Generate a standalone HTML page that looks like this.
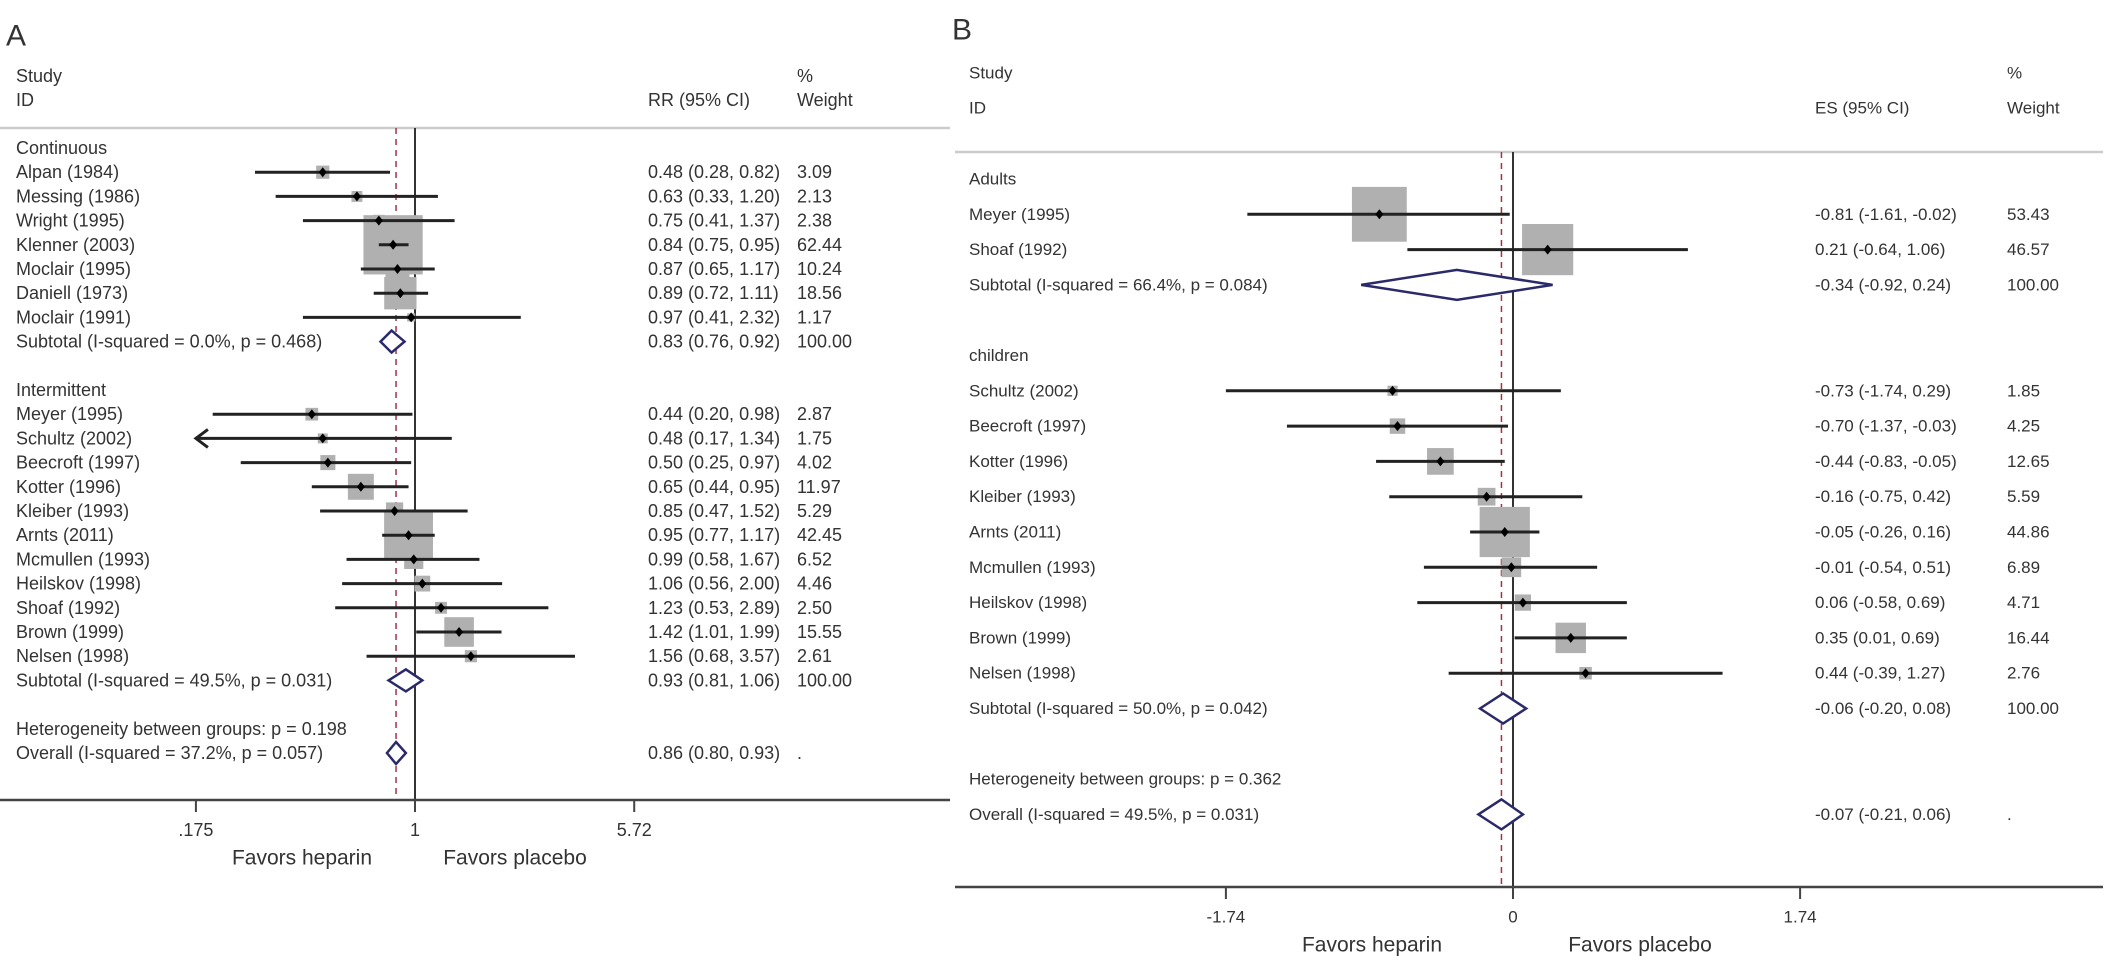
<!DOCTYPE html>
<html><head><meta charset="utf-8"><style>
html,body{margin:0;padding:0;background:#fff;}
svg{display:block;font-family:"Liberation Sans",Arial,sans-serif;}
</style></head><body>
<svg id="chart" width="2126" height="965" viewBox="0 0 2126 965" xmlns="http://www.w3.org/2000/svg"></svg>
<script>
// ---------- Panel A data ----------
const aGroups=["Continuous","Intermittent"];
const aStudies=["Alpan (1984)","Messing (1986)","Wright (1995)","Klenner (2003)","Moclair (1995)","Daniell (1973)","Moclair (1991)",
"Meyer (1995)","Schultz (2002)","Beecroft (1997)","Kotter (1996)","Kleiber (1993)","Arnts (2011)","Mcmullen (1993)","Heilskov (1998)","Shoaf (1992)","Brown (1999)","Nelsen (1998)"];
const aEst=[0.48,0.63,0.75,0.84,0.87,0.89,0.97,0.44,0.48,0.50,0.65,0.85,0.95,0.99,1.06,1.23,1.42,1.56];
const aLo=[0.28,0.33,0.41,0.75,0.65,0.72,0.41,0.20,0.17,0.25,0.44,0.47,0.77,0.58,0.56,0.53,1.01,0.68];
const aHi=[0.82,1.20,1.37,0.95,1.17,1.11,2.32,0.98,1.34,0.97,0.95,1.52,1.17,1.67,2.00,2.89,1.99,3.57];
const aWeight=[3.09,2.13,2.38,62.44,10.24,18.56,1.17,2.87,1.75,4.02,11.97,5.29,42.45,6.52,4.46,2.50,15.55,2.61];
const aStudyGroup=[0,0,0,0,0,0,0,1,1,1,1,1,1,1,1,1,1,1];
const aSubLabels=["Subtotal  (I-squared = 0.0%, p = 0.468)","Subtotal  (I-squared = 49.5%, p = 0.031)"];
const aSubEst=[0.83,0.93];
const aSubLo=[0.76,0.81];
const aSubHi=[0.92,1.06];
const aOverall=[0.86,0.80,0.93];
const aTicks=[0.175,1,5.72];
const aTickLabels=[".175","1","5.72"];
// ---------- Panel B data ----------
const bGroups=["Adults","children"];
const bStudies=["Meyer (1995)","Shoaf (1992)","Schultz (2002)","Beecroft (1997)","Kotter (1996)","Kleiber (1993)","Arnts (2011)","Mcmullen (1993)","Heilskov (1998)","Brown (1999)","Nelsen (1998)"];
const bEst=[-0.81,0.21,-0.73,-0.70,-0.44,-0.16,-0.05,-0.01,0.06,0.35,0.44];
const bLo=[-1.61,-0.64,-1.74,-1.37,-0.83,-0.75,-0.26,-0.54,-0.58,0.01,-0.39];
const bHi=[-0.02,1.06,0.29,-0.03,-0.05,0.42,0.16,0.51,0.69,0.69,1.27];
const bWeight=[53.43,46.57,1.85,4.25,12.65,5.59,44.86,6.89,4.71,16.44,2.76];
const bStudyGroup=[0,0,1,1,1,1,1,1,1,1,1];
const bSubLabels=["Subtotal  (I-squared = 66.4%, p = 0.084)","Subtotal  (I-squared = 50.0%, p = 0.042)"];
const bSubEst=[-0.34,-0.06];
const bSubLo=[-0.92,-0.20];
const bSubHi=[0.24,0.08];
const bOverall=[-0.07,-0.21,0.06];
const bTicks=[-1.74,0,1.74];
const bTickLabels=["-1.74","0","1.74"];

const NS="http://www.w3.org/2000/svg";
const svg=document.getElementById('chart');
function mk(tag,attrs){const e=document.createElementNS(NS,tag);for(const k in attrs)e.setAttribute(k,attrs[k]);svg.appendChild(e);return e;}
function txt(x,y,s,size,anchor){const t=mk('text',{x:x,y:y,'font-size':size,'dominant-baseline':'central','text-anchor':anchor||'start',fill:'#333'});t.textContent=s;return t;}
function f2(v){return v.toFixed(2);}

function panel(P){
  const sx=P.sx;
  let t=txt(P.letterX,P.letterY,P.letter,30);
  
  
  t=txt(P.nameX,P.hdrY1,"Study",P.fs);
  t=txt(P.nameX,P.hdrY2,"ID",P.fs);
  t=txt(P.estX,P.hdrY2,P.estHdr,P.fs);
  t=txt(P.wX,P.hdrY1,"%",P.fs);
  t=txt(P.wX,P.hdrY2,"Weight",P.fs);
  let l=mk('line',{x1:P.x0,x2:P.x1,y1:P.hdrLineY,y2:P.hdrLineY,stroke:'#ccc','stroke-width':2.5});
  
  l=mk('line',{x1:sx(P.nullV),x2:sx(P.nullV),y1:P.hdrLineY,y2:P.axisY,stroke:'#333','stroke-width':2});
  
  l=mk('line',{x1:sx(P.overall[0]),x2:sx(P.overall[0]),y1:P.hdrLineY,y2:P.axisY,stroke:'#a0324a','stroke-width':1.5,'stroke-dasharray':'6,5'});
  
  const Y=i=>P.row0+P.pitch*i;
  P.groups.forEach((g,i)=>{const t=txt(P.nameX,Y(P.groupRows[i]),g,P.fs);});
  P.studies.forEach((s,i)=>{
    const cx=sx(P.est[i]),cy=Y(P.studyRows[i]),w=7.5*Math.sqrt(P.weight[i]);
    const b=mk('rect',{x:cx-w/2,y:cy-w/2,width:w,height:w,fill:'#b0b0b0'});
    
  });
  P.studies.forEach((s,i)=>{
    const cy=Y(P.studyRows[i]);
    let lo=P.lo[i],arrow=false;
    if(lo<P.min){lo=P.min;arrow=true;}
    const x1=sx(lo),x2=sx(P.hi[i]);
    const ci=mk('line',{x1:x1,x2:x2,y1:cy,y2:cy,stroke:'#222','stroke-width':3});
    
    if(arrow){const a=mk('path',{d:`M${x1+12},${cy-9} L${x1},${cy} L${x1+12},${cy+9}`,fill:'none',stroke:'#222','stroke-width':3});
      }
    const cx=sx(P.est[i]);
    const d=mk('path',{d:`M${cx-4},${cy} L${cx},${cy-5} L${cx+4},${cy} L${cx},${cy+5}Z`,fill:'#000'});
    
    let t=txt(P.nameX,cy,s,P.fs);
    t=txt(P.estX,cy,`${f2(P.est[i])} (${f2(P.lo[i])}, ${f2(P.hi[i])})`,P.fs);
    t=txt(P.wX,cy,f2(P.weight[i]),P.fs);
  });
  function diamond(e,lo,hi,cy,name){
    const p=mk('path',{d:`M${sx(lo)},${cy} L${sx(e)},${cy-P.dh} L${sx(hi)},${cy} L${sx(e)},${cy+P.dh}Z`,fill:'#fff',stroke:'#2a2a6a','stroke-width':2.5});
    
  }
  P.subLabels.forEach((s,i)=>{
    const cy=Y(P.subRows[i]);
    diamond(P.subEst[i],P.subLo[i],P.subHi[i],cy,'subtotal-diamond');
    let t=txt(P.nameX,cy,s,P.fs);
    t.setAttribute('xml:space','preserve');
    t=txt(P.estX,cy,`${f2(P.subEst[i])} (${f2(P.subLo[i])}, ${f2(P.subHi[i])})`,P.fs);
    t=txt(P.wX,cy,"100.00",P.fs);
  });
  let hy=Y(P.hetRow);
  t=txt(P.nameX,hy,P.hetText,P.fs);
  const oy=Y(P.hetRow+1);
  diamond(P.overall[0],P.overall[1],P.overall[2],oy,'overall-diamond');
  t=txt(P.nameX,oy,P.overallText,P.fs);
  t.setAttribute('xml:space','preserve');
  t=txt(P.estX,oy,`${f2(P.overall[0])} (${f2(P.overall[1])}, ${f2(P.overall[2])})`,P.fs);
  t=txt(P.wX,oy,".",P.fs);
  l=mk('line',{x1:P.x0,x2:P.x1,y1:P.axisY,y2:P.axisY,stroke:'#444','stroke-width':2.5});
  
  P.ticks.forEach((v,i)=>{
    const x=sx(v);
    const tk=mk('line',{x1:x,x2:x,y1:P.axisY,y2:P.axisY+12,stroke:'#444','stroke-width':2});
    
    const tl=txt(x,P.axisY+30,P.tickLabels[i],P.fs,'middle');
  });
  t=txt(P.favL,P.axisY+58,"Favors heparin",21,'middle');
  t=txt(P.favR,P.axisY+58,"Favors placebo",21,'middle');
}

panel({letter:"A",letterX:6,letterY:36,nameX:16,estX:648,wX:797,estHdr:"RR (95% CI)",fs:18,
  hdrY1:76,hdrY2:100,hdrLineY:128,x0:0,x1:950,axisY:800,row0:148,pitch:24.2,dh:11,
  sx:v=>415+125.7*Math.log(v),min:0.175,nullV:1,
  groups:aGroups,groupRows:[0,10],studies:aStudies,est:aEst,lo:aLo,hi:aHi,weight:aWeight,
  studyRows:aStudyGroup.map((g,i)=>g===0?i+1:i+4),
  subLabels:aSubLabels,subEst:aSubEst,subLo:aSubLo,subHi:aSubHi,subRows:[8,22],hetRow:24,
  hetText:"Heterogeneity between groups: p = 0.198",overallText:"Overall  (I-squared = 37.2%, p = 0.057)",
  overall:aOverall,ticks:aTicks,tickLabels:aTickLabels,favL:302,favR:515});

panel({letter:"B",letterX:952,letterY:30,nameX:969,estX:1815,wX:2007,estHdr:"ES (95% CI)",fs:17,
  hdrY1:73,hdrY2:108,hdrLineY:152,x0:955,x1:2103,axisY:887,row0:179,pitch:35.3,dh:15,
  sx:v=>1513+165*v,min:-1.74,nullV:0,
  groups:bGroups,groupRows:[0,5],studies:bStudies,est:bEst,lo:bLo,hi:bHi,weight:bWeight,
  studyRows:bStudyGroup.map((g,i)=>g===0?i+1:i+4),
  subLabels:bSubLabels,subEst:bSubEst,subLo:bSubLo,subHi:bSubHi,subRows:[3,15],hetRow:17,
  hetText:"Heterogeneity between groups: p = 0.362",overallText:"Overall  (I-squared = 49.5%, p = 0.031)",
  overall:bOverall,ticks:bTicks,tickLabels:bTickLabels,favL:1372,favR:1640});
</script>
</body></html>
